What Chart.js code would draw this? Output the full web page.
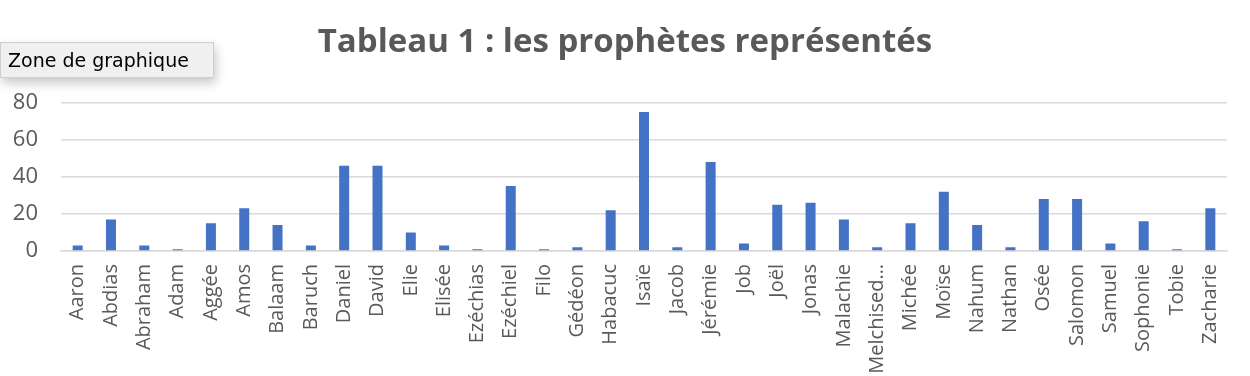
<!DOCTYPE html>
<html>
<head>
<meta charset="utf-8">
<script src="https://cdn.jsdelivr.net/npm/chart.js@4.4.0/dist/chart.umd.min.js"></script>
<style>
  html, body { margin: 0; padding: 0; background: #fff; }
  #wrap { position: relative; width: 1250px; height: 376px; }
  #tip {
    position: absolute; left: 0px; top: 42px; width: 214px; height: 36px;
    background: #f0f0f0; border: 1px solid #cfcfcf;
    box-shadow: 2px 5px 10px rgba(0,0,0,0.22);
    font-family: "DejaVu Sans", sans-serif; font-size: 19px; color: #000;
    line-height: 34px; padding-left: 7px; box-sizing: border-box;
  }
</style>
</head>
<body>
<div id="wrap">
  <canvas id="chart" width="1250" height="376"></canvas>
  <div id="tip">Zone de graphique</div>
</div>
<script>
var prophetes = ["Aaron", "Abdias", "Abraham", "Adam", "Aggée", "Amos", "Balaam", "Baruch",
    "Daniel", "David", "Elie", "Elisée", "Ezéchias", "Ezéchiel", "Filo", "Gédéon", "Habacuc",
    "Isaïe", "Jacob", "Jérémie", "Job", "Joël", "Jonas", "Malachie", "Melchisedech", "Michée",
    "Moïse", "Nahum", "Nathan", "Osée", "Salomon", "Samuel", "Sophonie", "Tobie", "Zacharie"];
var nombre = [3, 17, 3, 1, 15, 23, 14, 3, 46, 46, 10, 3, 1, 35, 1, 2, 22,
    75, 2, 48, 4, 25, 26, 17, 2, 15, 32, 14, 2, 28, 28, 4, 16, 1, 23];

var grey = '#595959';
var ctx = document.getElementById('chart');

var myChart = new Chart(ctx, {
    type: 'bar',
    data: {
        labels: prophetes,
        datasets: [{
            data: nombre,
            backgroundColor: '#4472c4',
            barPercentage: 0.3,
            categoryPercentage: 1
        }]
    },
    options: {
        responsive: false,
        animation: false,
        layout: { padding: 0 },
        plugins: {
            legend: { display: false },
            tooltip: { enabled: false },
            title: {
                display: true,
                text: 'Tableau 1 : les prophètes représentés',
                color: grey,
                font: { family: '"Open Sans", sans-serif', size: 33, weight: 'bold' },
                padding: { top: 23, bottom: 40 }
            }
        },
        scales: {
            x: {
                grid: { display: false },
                border: { color: '#d9d9d9', width: 1.5 },
                ticks: {
                    color: grey,
                    font: { family: '"Open Sans", sans-serif', size: 20 },
                    minRotation: 90,
                    maxRotation: 90,
                    autoSkip: false,
                    padding: 5,
                    callback: function(value) {
                        var s = this.getLabelForValue(value);
                        return s.length > 10 ? s.slice(0, 9) + '…' : s;
                    }
                },
                afterFit: function(scale) { scale.height = 125; }
            },
            y: {
                min: 0,
                max: 80,
                ticks: {
                    stepSize: 20,
                    color: grey,
                    font: { family: '"Open Sans", sans-serif', size: 22 },
                    padding: 23
                },
                grid: { color: '#d9d9d9', lineWidth: 1.5, drawTicks: false },
                border: { display: false },
                afterFit: function(scale) { scale.width = 61; }
            },
            // empty right margin so the title stays centred on the page
            marge: {
                position: 'right',
                ticks: { display: false },
                grid: { display: false },
                border: { display: false },
                afterFit: function(scale) { scale.width = 23; }
            }
        }
    }
});
</script>
</body>
</html>
